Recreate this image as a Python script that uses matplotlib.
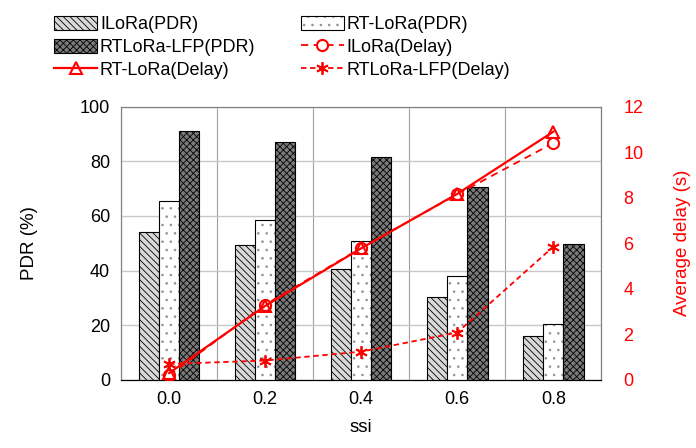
import matplotlib.pyplot as plt
from matplotlib.legend_handler import HandlerTuple
import numpy as np

plt.rcParams['font.family'] = ['Liberation Sans', 'DejaVu Sans']
plt.rcParams['hatch.linewidth'] = 0.6

ssi = ['0.0', '0.2', '0.4', '0.6', '0.8']
ilora_pdr = [54.0, 49.3, 40.5, 30.2, 16.1]
rtlora_pdr = [65.5, 58.4, 51.0, 38.0, 20.5]
lfp_pdr = [90.9, 87.1, 81.7, 70.5, 49.6]
ilora_delay = [0.2, 3.3, 5.8, 8.15, 10.4]
rtlora_delay = [0.3, 3.25, 5.78, 8.17, 10.9]
lfp_delay = [0.7, 0.85, 1.24, 2.08, 5.85]

fig, ax = plt.subplots(figsize=(6.96, 4.48), dpi=100)
fig.subplots_adjust(left=0.174, right=0.864, top=0.762, bottom=0.152)

x = np.arange(len(ssi))
w = 0.21
b1 = ax.bar(x - w, ilora_pdr, w, color='#d9d9d9', edgecolor='black', linewidth=0.8,
            hatch='\\\\\\\\\\', label='ILoRa(PDR)', zorder=3)
# dotted fill in grey, black outline drawn on top
b2h = ax.bar(x, rtlora_pdr, w, color='white', edgecolor='#909090', linewidth=0,
             hatch='..', zorder=3)
b2 = ax.bar(x, rtlora_pdr, w, fill=False, edgecolor='black', linewidth=0.8,
            label='RT-LoRa(PDR)', zorder=3)
b3 = ax.bar(x + w, lfp_pdr, w, color='#7a7a7a', edgecolor='black', linewidth=0.8,
            hatch='xxxxx', label='RTLoRa-LFP(PDR)', zorder=3)

ax.set_xlim(-0.5, len(ssi) - 0.5)
ax.set_ylim(0, 100)
ax.set_yticks(np.arange(0, 101, 20))
ax.set_xticks(x)
ax.set_xticklabels(ssi)
ax.set_xticks(np.arange(-0.5, len(ssi), 1), minor=True)
ax.grid(True, which='minor', axis='x', color='#a0a0a0', linewidth=0.8, zorder=0)
ax.grid(True, which='major', axis='y', color='#c8c8c8', linewidth=1.0, zorder=0)
ax.tick_params(axis='both', which='both', length=0, labelsize=13, pad=8)
ax.set_xlabel('ssi', fontsize=13.5, labelpad=8)
ax.set_ylabel('PDR (%)', fontsize=13.5, labelpad=30)
for s in ['top', 'right', 'left']:
    ax.spines[s].set_color('#808080')
ax.spines['bottom'].set_color('black')

ax2 = ax.twinx()
ax2.set_ylim(0, 12)
ax2.set_yticks(np.arange(0, 13, 2))
l1, = ax2.plot(x, ilora_delay, color='red', linestyle=(0, (4, 3)), linewidth=1.3,
               marker='o', markersize=8, markerfacecolor='white', markeredgecolor='red',
               markeredgewidth=1.5, label='ILoRa(Delay)', zorder=4)
l2, = ax2.plot(x, rtlora_delay, color='red', linestyle='-', linewidth=1.6,
               marker='^', markersize=8, markerfacecolor='none', markeredgecolor='red',
               markeredgewidth=1.5, label='RT-LoRa(Delay)', zorder=4)
l3, = ax2.plot(x, lfp_delay, color='red', linestyle=(0, (3, 2)), linewidth=1.3,
               marker=(6, 2, 0), markersize=9, markeredgecolor='red',
               markeredgewidth=1.3, label='RTLoRa-LFP(Delay)', zorder=4)
ax2.tick_params(axis='y', length=0, labelsize=13, labelcolor='red', pad=16)
ax2.set_ylabel('Average delay (s)', fontsize=13.5, color='red', labelpad=22)
ax2.spines['right'].set_color('#808080')
ax2.spines['top'].set_color('#808080')
ax2.spines['left'].set_color('#808080')

handles = [b1, b3, l2, (b2h, b2), l1, l3]
labels = ['ILoRa(PDR)', 'RTLoRa-LFP(PDR)', 'RT-LoRa(Delay)',
          'RT-LoRa(PDR)', 'ILoRa(Delay)', 'RTLoRa-LFP(Delay)']
fig.legend(handles, labels, ncol=2, loc='upper left',
           bbox_to_anchor=(0.054, 1.0), frameon=False, fontsize=13,
           handlelength=2.4, handletextpad=0.15, columnspacing=2.5, labelspacing=0.3,
           handleheight=0.8, handler_map={tuple: HandlerTuple(ndivide=1, pad=0)})

fig.savefig('out.png', dpi=100)
